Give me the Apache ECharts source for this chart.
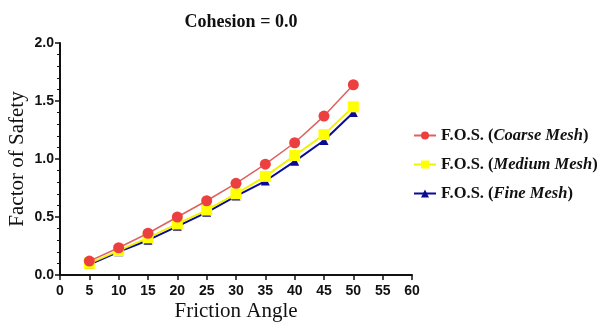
<!DOCTYPE html>
<html><head><meta charset="utf-8">
<script src="https://cdn.jsdelivr.net/npm/echarts@6/dist/echarts.min.js"></script>
<style>html,body{margin:0;padding:0;background:#fff}#c{width:604px;height:325px}</style>
</head><body><div id="c"></div>
<script>
const frictionAngles = [5, 10, 15, 20, 25, 30, 35, 40, 45, 50];
const coarseMesh = [0.12, 0.235, 0.36, 0.50, 0.64, 0.79, 0.955, 1.14, 1.37, 1.64];
const mediumMesh = [0.10, 0.21, 0.32, 0.44, 0.56, 0.70, 0.85, 1.03, 1.21, 1.45];
const fineMesh = [0.09, 0.20, 0.30, 0.42, 0.54, 0.68, 0.81, 0.98, 1.16, 1.40];
const seriesNames = ['Coarse Mesh', 'Medium Mesh', 'Fine Mesh'];

const pair = (vals) => frictionAngles.map((x, i) => [x, vals[i]]);
const chart = echarts.init(document.getElementById('c'));
const axisLabel = {color: '#111', fontFamily: 'Liberation Sans', fontWeight: 'bold', fontSize: 14};
chart.setOption({
  animation: false,
  title: {text: 'Cohesion = 0.0', left: 236, top: 8, textAlign: 'center',
    textStyle: {fontFamily: 'Liberation Serif', fontWeight: 'bold', fontSize: 18, color: '#111'}},
  grid: {left: 60, right: 192, top: 43, bottom: 50, containLabel: false, outerBoundsMode: 'none'},
  xAxis: {type: 'value', min: 0, max: 60, interval: 5,
    name: 'Friction Angle', nameLocation: 'middle', nameGap: 26, nameMoveOverlap: false,
    nameTextStyle: {fontFamily: 'Liberation Serif', fontSize: 21, color: '#111'},
    axisLine: {lineStyle: {color: '#111', width: 2}},
    axisTick: {show: true, length: 5, lineStyle: {color: '#111', width: 1.5}},
    axisLabel: Object.assign({margin: 9}, axisLabel),
    splitLine: {show: false}},
  yAxis: {type: 'value', min: 0, max: 2, interval: 0.5,
    name: 'Factor of Safety', nameLocation: 'middle', nameGap: 32, nameMoveOverlap: false,
    nameTextStyle: {fontFamily: 'Liberation Serif', fontSize: 21, color: '#111'},
    axisLine: {show: true, lineStyle: {color: '#111', width: 2}},
    axisTick: {show: true, length: 5, lineStyle: {color: '#111', width: 1.5}},
    minorTick: {show: true, splitNumber: 5, length: 3, lineStyle: {color: '#111', width: 1}},
    axisLabel: Object.assign({margin: 6, formatter: v => v.toFixed(1)}, axisLabel),
    splitLine: {show: false}},
  legend: {orient: 'vertical', left: 408, top: 122, itemGap: 12, itemWidth: 22, itemHeight: 10,
    data: seriesNames,
    formatter: n => '{b|F.O.S. (}{i|' + n + '}{b|)}',
    textStyle: {color: '#111', rich: {
      b: {fontFamily: 'Liberation Serif', fontWeight: 'bold', fontSize: 16.5, color: '#111'},
      i: {fontFamily: 'Liberation Serif', fontWeight: 'bold', fontStyle: 'italic', fontSize: 16.5, color: '#111'}}}},
  series: [
    {name: 'Fine Mesh', type: 'line', data: pair(fineMesh), z: 2,
      symbol: 'triangle', symbolSize: 9,
      itemStyle: {color: '#0a0a96'}, lineStyle: {color: '#0a0a96', width: 2}},
    {name: 'Medium Mesh', type: 'line', data: pair(mediumMesh), z: 3,
      symbol: 'rect', symbolSize: 11,
      itemStyle: {color: '#ffff00'}, lineStyle: {color: '#f2f200', width: 2}},
    {name: 'Coarse Mesh', type: 'line', data: pair(coarseMesh), z: 4,
      symbol: 'circle', symbolSize: 11,
      itemStyle: {color: '#ec4040'}, lineStyle: {color: '#e06060', width: 1.5}}
  ]
});
</script></body></html>
